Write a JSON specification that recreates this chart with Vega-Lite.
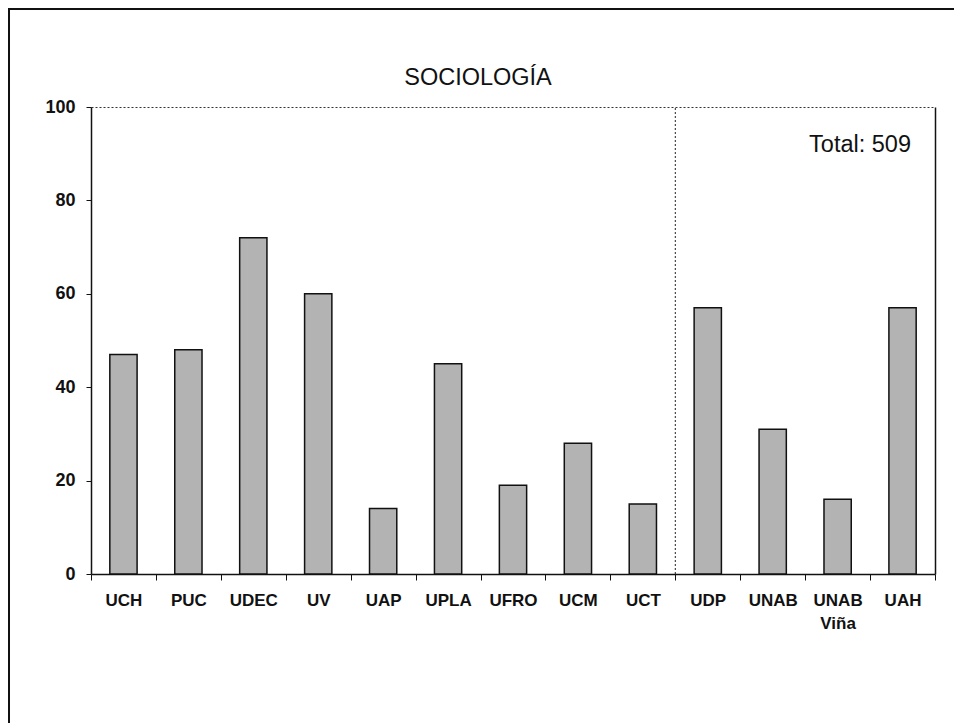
{
  "$schema": "https://vega.github.io/schema/vega-lite/v6.json",
  "width": 950,
  "height": 720,
  "autosize": {"type": "none"},
  "padding": {"left": 9, "top": 9, "right": 0, "bottom": 0},
  "background": "white",
  "title": {
    "text": "SOCIOLOGÍA",
    "anchor": "middle",
    "frame": "group",
    "font": "Liberation Sans",
    "fontSize": 23.5,
    "fontWeight": "normal",
    "color": "#111111",
    "baseline": "alphabetic",
    "offset": 0,
    "dy": 99,
    "dx": -6
  },
  "config": {
    "view": {"stroke": "#111111", "strokeWidth": 2},
    "font": "Liberation Sans"
  },
  "datasets": {
    "bars": [
      {"universidad": "UCH", "n": 47},
      {"universidad": "PUC", "n": 48},
      {"universidad": "UDEC", "n": 72},
      {"universidad": "UV", "n": 60},
      {"universidad": "UAP", "n": 14},
      {"universidad": "UPLA", "n": 45},
      {"universidad": "UFRO", "n": 19},
      {"universidad": "UCM", "n": 28},
      {"universidad": "UCT", "n": 15},
      {"universidad": "UDP", "n": 57},
      {"universidad": "UNAB", "n": 31},
      {"universidad": "UNAB Viña", "n": 16},
      {"universidad": "UAH", "n": 57}
    ]
  },
  "layer": [
    {
      "data": {"name": "bars"},
      "mark": {"type": "bar", "width": {"band": 0.42}, "fill": "#b3b3b3", "stroke": "#111111", "strokeWidth": 1.5},
      "encoding": {
        "x": {
          "field": "universidad",
          "type": "nominal",
          "scale": {
            "domain": ["UCH", "PUC", "UDEC", "UV", "UAP", "UPLA", "UFRO", "UCM", "UCT", "UDP", "UNAB", "UNAB Viña", "UAH"],
            "range": [82, 926],
            "paddingInner": 0,
            "paddingOuter": 0
          },
          "axis": {
            "orient": "bottom",
            "offset": -155,
            "title": null,
            "labelAngle": 0,
            "labelFont": "Liberation Sans",
            "labelFontSize": 17,
            "labelFontWeight": "bold",
            "labelColor": "#111111",
            "labelPadding": 12,
            "labelExpr": "isValid(datum.value) ? split(datum.value, ' ') : ''",
            "labelLineHeight": 23,
            "labelOverlap": false,
            "tickBand": "extent",
            "tickSize": 6,
            "tickColor": "#111111",
            "domainColor": "#111111",
            "domainWidth": 1.5
          }
        },
        "y": {
          "field": "n",
          "type": "quantitative",
          "scale": {"domain": [0, 100], "range": [565, 98], "nice": false, "zero": true},
          "axis": {
            "orient": "left",
            "offset": -82,
            "values": [0, 20, 40, 60, 80, 100],
            "title": null,
            "grid": false,
            "labelFont": "Liberation Sans",
            "labelFontSize": 18,
            "labelFontWeight": "bold",
            "labelColor": "#111111",
            "labelPadding": 11,
            "tickSize": 5,
            "tickColor": "#111111",
            "domainColor": "#111111",
            "domainWidth": 1.5
          }
        }
      }
    },
    {
      "data": {"values": [{"separador": "UDP"}]},
      "mark": {"type": "rule", "strokeDash": [2, 2], "color": "#222222", "strokeWidth": 1},
      "encoding": {
        "x": {
          "field": "separador",
          "type": "nominal",
          "bandPosition": 0,
          "axis": {
            "orient": "top",
            "offset": -98,
            "labels": false,
            "ticks": false,
            "title": null,
            "domainDash": [2, 2],
            "domainColor": "#333333",
            "domainWidth": 1
          }
        },
        "y": {
          "datum": 0,
          "type": "quantitative",
          "axis": {
            "orient": "right",
            "offset": -24,
            "labels": false,
            "ticks": false,
            "grid": false,
            "title": null,
            "domainColor": "#111111",
            "domainWidth": 1.5
          }
        },
        "y2": {"datum": 100}
      }
    },
    {
      "data": {"values": [{"etiqueta": "Total: 509"}]},
      "mark": {"type": "text", "align": "right", "baseline": "alphabetic", "font": "Liberation Sans", "fontSize": 23.5, "color": "#111111"},
      "encoding": {
        "x": {"datum": "UAH", "type": "nominal", "bandPosition": 0.63, "axis": null},
        "y": {"datum": 90.4, "type": "quantitative", "axis": null},
        "text": {"field": "etiqueta", "type": "nominal"}
      }
    }
  ],
  "resolve": {"axis": {"x": "independent", "y": "independent"}}
}
